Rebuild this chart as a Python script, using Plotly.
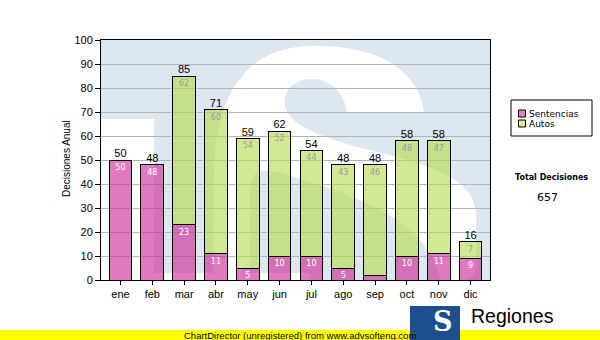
import plotly.graph_objects as go

# ---------------- data ----------------
months = ["ene", "feb", "mar", "abr", "may", "jun", "jul", "ago", "sep", "oct", "nov", "dic"]
sentencias = [50, 48, 23, 11, 5, 10, 10, 5, 2, 10, 11, 9]
autos = [0, 0, 62, 60, 54, 52, 44, 43, 46, 48, 47, 7]
totals = [s + a for s, a in zip(sentencias, autos)]
total_decisiones = sum(totals)
series_names = ["Sentencias", "Autos"]
y_title = "Decisiones Anual"
footer = "ChartDirector (unregistered) from www.advsofteng.com"

# ---------------- geometry helpers (plot area in pixels) ----------------
W, H = 600, 340
L, R, T, B = 101, 490, 40, 280


def px(x):
    return (x - L) / (R - L)


def py(y):
    return (B - y) / (B - T)


def path(segs):
    out = []
    for cmd, pts in segs:
        if cmd == "Z":
            out.append("Z")
        else:
            out.append(cmd + " " + " ".join(f"{px(x):.4f},{py(y):.4f}" for x, y in pts))
    return " ".join(out)


PINK = "rgba(203,40,150,0.62)"
GREEN = "rgba(183,220,80,0.62)"
PINK_SOLID = "#e07ec0"
GREEN_SOLID = "#d4ea96"
WM_BLUE = "#dde7f0"
FONT = "Liberation Sans"
VFONT = "DejaVu Sans"

fig = go.Figure()

fig.add_trace(go.Bar(
    x=months, y=sentencias, name=series_names[0],
    marker=dict(color=PINK, line=dict(color="black", width=1)),
    text=[str(v) if v >= 5 else "" for v in sentencias],
    textposition="inside", insidetextanchor="end", constraintext="none",
    textangle=0, textfont=dict(family=VFONT, size=8, color="white"),
    hoverinfo="skip",
))
fig.add_trace(go.Bar(
    x=months, y=autos, name=series_names[1],
    marker=dict(color=GREEN, line=dict(color="black", width=1)),
    text=[str(v) if v >= 5 else "" for v in autos],
    textposition="inside", insidetextanchor="end", constraintext="none",
    textangle=0, textfont=dict(family=VFONT, size=8, color="#9a9a9a"),
    hoverinfo="skip",
))
fig.add_trace(go.Scatter(
    x=months, y=totals, mode="text", text=[str(t) for t in totals],
    textposition="top center", textfont=dict(family=FONT, size=11, color="black"),
    cliponaxis=False, hoverinfo="skip", showlegend=False,
))

shapes = []
# watermark: white regions over light-blue plot background
shapes.append(dict(type="rect", xref="paper", yref="paper", layer="below",
                   x0=px(101), x1=px(154), y0=py(280), y1=py(119),
                   fillcolor="white", line=dict(width=0)))
shapes.append(dict(type="rect", xref="paper", yref="paper", layer="below",
                   x0=px(154), x1=px(310), y0=py(280), y1=py(273),
                   fillcolor="white", line=dict(width=0)))
s_path = path([
    ("M", [(213, 280)]),
    ("L", [(214, 175)]),
    ("C", [(215, 95), (245, 48), (310, 46)]),
    ("C", [(375, 44), (418, 68), (424, 112)]),
    ("L", [(347, 112)]),
    ("C", [(344, 92), (330, 79), (312, 79)]),
    ("C", [(293, 79), (283, 92), (285, 106)]),
    ("C", [(288, 124), (320, 138), (370, 150)]),
    ("C", [(430, 165), (476, 178), (476, 215)]),
    ("L", [(476, 265)]),
    ("C", [(476, 275), (470, 280), (460, 280)]),
    ("L", [(440, 280)]),
    ("C", [(430, 230), (380, 205), (320, 185)]),
    ("C", [(270, 170), (252, 160), (250, 190)]),
    ("L", [(250, 280)]),
    ("Z", []),
])
shapes.append(dict(type="path", xref="paper", yref="paper", layer="below",
                   path=s_path, fillcolor="white", line=dict(width=0)))

# legend box
shapes.append(dict(type="rect", xref="paper", yref="paper",
                   x0=px(511), x1=px(592), y0=py(136), y1=py(100),
                   fillcolor="white", line=dict(color="black", width=1)))
shapes.append(dict(type="rect", xref="paper", yref="paper",
                   x0=px(518.5), x1=px(525.5), y0=py(117), y1=py(110),
                   fillcolor=PINK_SOLID, line=dict(color="black", width=1)))
shapes.append(dict(type="rect", xref="paper", yref="paper",
                   x0=px(518.5), x1=px(525.5), y0=py(127), y1=py(120),
                   fillcolor=GREEN_SOLID, line=dict(color="black", width=1)))

# footer band + logo
shapes.append(dict(type="rect", xref="paper", yref="paper", layer="above",
                   x0=px(0), x1=px(600), y0=py(341), y1=py(330),
                   fillcolor="#ffff00", line=dict(width=0)))
shapes.append(dict(type="rect", xref="paper", yref="paper", layer="above",
                   x0=px(410), x1=px(460), y0=py(341), y1=py(306),
                   fillcolor="#1d4f8e", line=dict(width=0)))

annotations = [
    dict(text=y_title, x=px(66.5), y=py(158.5), xref="paper", yref="paper",
         textangle=-90, showarrow=False, xanchor="center", yanchor="middle",
         font=dict(family=FONT, size=10, color="black")),
    dict(text=series_names[0], x=px(527), y=py(113.5), xref="paper", yref="paper",
         showarrow=False, xanchor="left", yanchor="middle",
         font=dict(family=VFONT, size=9, color="black")),
    dict(text=series_names[1], x=px(527), y=py(124), xref="paper", yref="paper",
         showarrow=False, xanchor="left", yanchor="middle",
         font=dict(family=VFONT, size=9, color="black")),
    dict(text="<b>Total Decisiones</b>", x=px(551.5), y=py(177.5), xref="paper", yref="paper",
         showarrow=False, xanchor="center", yanchor="middle",
         font=dict(family=VFONT, size=8, color="black")),
    dict(text=str(total_decisiones), x=px(547), y=py(197), xref="paper", yref="paper",
         showarrow=False, xanchor="center", yanchor="middle",
         font=dict(family=VFONT, size=11, color="black")),
    dict(text=footer, x=px(300), y=py(335.5), xref="paper", yref="paper",
         showarrow=False, xanchor="center", yanchor="middle",
         font=dict(family=FONT, size=9.5, color="black")),
    dict(text="<b>S</b>", x=px(443), y=py(321), xref="paper", yref="paper",
         showarrow=False, xanchor="center", yanchor="middle",
         font=dict(family="DejaVu Serif", size=27, color="white")),
    dict(text="Regiones", x=px(469), y=py(316), xref="paper", yref="paper",
         showarrow=False, xanchor="left", yanchor="middle",
         font=dict(family=FONT, size=19.5, color="black")),
]

fig.update_layout(
    width=W, height=H,
    margin=dict(l=L, r=W - R, t=T, b=H - B, pad=0),
    paper_bgcolor="white", plot_bgcolor=WM_BLUE,
    barmode="stack", bargap=0.29,
    showlegend=False,
    shapes=shapes, annotations=annotations,
    xaxis=dict(showline=True, linecolor="black", linewidth=1, mirror=True,
               ticks="outside", ticklen=4, tickcolor="black", showgrid=False,
               tickfont=dict(family=FONT, size=11, color="black")),
    yaxis=dict(range=[0, 100], dtick=10, showgrid=True, gridcolor="#b4b4b4", gridwidth=1,
               showline=True, linecolor="black", linewidth=1, mirror=True,
               ticks="outside", ticklen=5, tickcolor="black", zeroline=False,
               tickfont=dict(family=FONT, size=11, color="black")),
)

fig.write_html("out.html")
